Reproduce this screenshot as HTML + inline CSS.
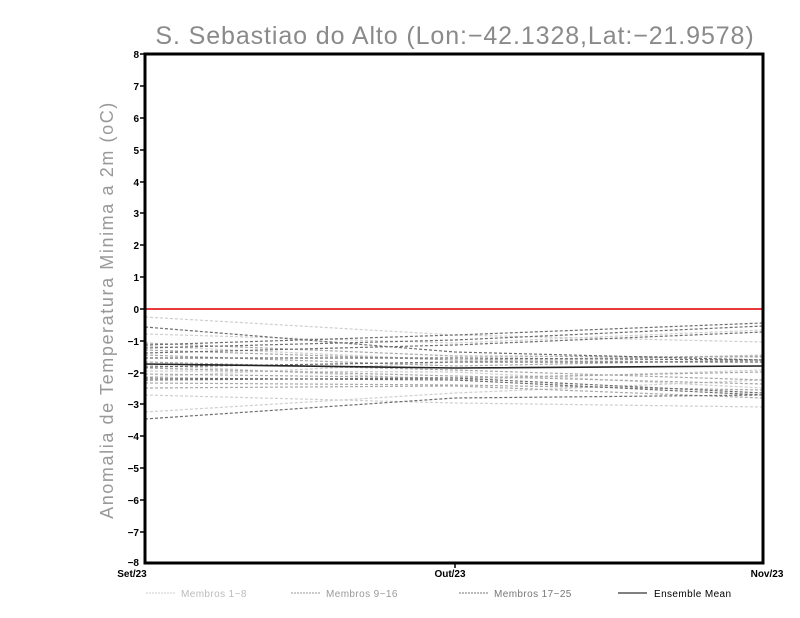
<!DOCTYPE html>
<html><head><meta charset="utf-8"><style>
html,body{margin:0;padding:0;background:#fff;}
svg{display:block;font-family:"Liberation Sans",sans-serif;}
</style></head><body>
<svg width="800" height="618" viewBox="0 0 800 618" xmlns="http://www.w3.org/2000/svg">
<rect width="800" height="618" fill="#fff"/>
<text x="455" y="44" text-anchor="middle" font-size="25" fill="#8a8a8a" letter-spacing="0.9">S. Sebastiao do Alto (Lon:−42.1328,Lat:−21.9578)</text>
<text transform="translate(113,310) rotate(-90)" text-anchor="middle" font-size="18" fill="#999" letter-spacing="1.6">Anomalia de Temperatura Minima a 2m (oC)</text>
<g fill="none" stroke-dasharray="3,2" stroke-width="1.2">
<g stroke="#cfcfcf">
<polyline points="145,317 455,335 763,342"/>
<polyline points="145,334 455,343 763,330"/>
<polyline points="145,395 455,403 763,407"/>
<polyline points="145,412 455,393 763,380"/>
<polyline points="145,365 455,380 763,370"/>
<polyline points="145,346 455,360 763,362"/>
<polyline points="145,371 455,372 763,388"/>
<polyline points="145,377 455,362 763,355"/>
</g>
<g stroke="#a8a8a8">
<polyline points="145,343 455,356 763,357"/>
<polyline points="145,350 455,360 763,356"/>
<polyline points="145,355 455,366 763,360"/>
<polyline points="145,362 455,370 763,380"/>
<polyline points="145,368 455,376 763,384"/>
<polyline points="145,374 455,378 763,372"/>
<polyline points="145,383 455,385 763,390"/>
<polyline points="145,388 455,386 763,398"/>
</g>
<g stroke="#6e6e6e">
<polyline points="145,327 455,352 763,360"/>
<polyline points="145,345 455,335 763,323"/>
<polyline points="145,348 455,340 763,326"/>
<polyline points="145,353 455,345 763,332"/>
<polyline points="145,358 455,358 763,360"/>
<polyline points="145,367 455,362 763,362"/>
<polyline points="145,378 455,380 763,395"/>
<polyline points="145,380 455,378 763,393"/>
<polyline points="145,419 455,398 763,395"/>
</g>
</g>
<polyline points="145,364 455,368 763,366" fill="none" stroke="#222" stroke-width="1.6"/>
<line x1="145" y1="309" x2="763" y2="309" stroke="#e83a3a" stroke-width="2"/>
<rect x="145" y="54" width="618" height="509" fill="none" stroke="#000" stroke-width="3"/>
<g font-size="10" font-weight="bold" fill="#000" text-anchor="end">
<text x="139" y="58">8</text><text x="139" y="90">7</text><text x="139" y="122">6</text>
<text x="139" y="154">5</text><text x="139" y="186">4</text><text x="139" y="217">3</text>
<text x="139" y="249">2</text><text x="139" y="281">1</text><text x="139" y="313">0</text>
<text x="139" y="345">−1</text><text x="139" y="377">−2</text><text x="139" y="408">−3</text>
<text x="139" y="440">−4</text><text x="139" y="472">−5</text><text x="139" y="504">−6</text>
<text x="139" y="536">−7</text><text x="139" y="566">−8</text>
</g>
<g stroke="#000" stroke-width="1.5">
<line x1="140" y1="54" x2="145" y2="54"/><line x1="140" y1="86" x2="145" y2="86"/>
<line x1="140" y1="118" x2="145" y2="118"/><line x1="140" y1="150" x2="145" y2="150"/>
<line x1="140" y1="182" x2="145" y2="182"/><line x1="140" y1="213" x2="145" y2="213"/>
<line x1="140" y1="245" x2="145" y2="245"/><line x1="140" y1="277" x2="145" y2="277"/>
<line x1="140" y1="309" x2="145" y2="309"/><line x1="140" y1="341" x2="145" y2="341"/>
<line x1="140" y1="373" x2="145" y2="373"/><line x1="140" y1="404" x2="145" y2="404"/>
<line x1="140" y1="436" x2="145" y2="436"/><line x1="140" y1="468" x2="145" y2="468"/>
<line x1="140" y1="500" x2="145" y2="500"/><line x1="140" y1="532" x2="145" y2="532"/>
<line x1="455" y1="563" x2="455" y2="568"/>
</g>
<g font-size="10" font-weight="bold" fill="#000" text-anchor="middle">
<text x="132" y="577">Set/23</text><text x="450" y="577">Out/23</text><text x="767" y="577">Nov/23</text>
</g>
<g font-size="10" fill="#bbb" letter-spacing="0.4">
<line x1="146" y1="593" x2="175" y2="593" stroke="#ccc" stroke-dasharray="2,1"/>
<text x="181" y="597">Membros 1−8</text>
</g>
<g font-size="10" fill="#999" letter-spacing="0.4">
<line x1="291" y1="593" x2="320" y2="593" stroke="#999" stroke-dasharray="2,1"/>
<text x="326" y="597">Membros 9−16</text>
</g>
<g font-size="10" fill="#777" letter-spacing="0.4">
<line x1="459" y1="593" x2="488" y2="593" stroke="#777" stroke-dasharray="2,1"/>
<text x="494" y="597">Membros 17−25</text>
</g>
<g font-size="10" fill="#000" letter-spacing="0.4">
<line x1="618" y1="593" x2="647" y2="593" stroke="#000"/>
<text x="654" y="597">Ensemble Mean</text>
</g>
</svg>
</body></html>
